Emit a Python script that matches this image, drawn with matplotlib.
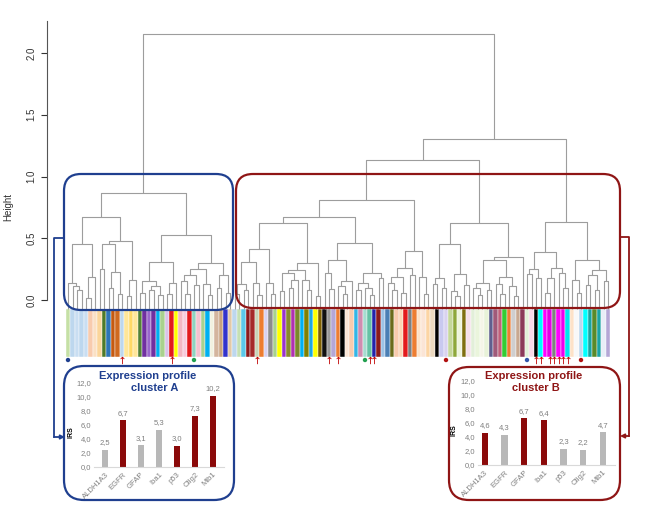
import matplotlib
matplotlib.use("Agg")
import matplotlib.pyplot as plt
from matplotlib.patches import FancyBboxPatch

plt.rcParams["font.family"] = ["Liberation Sans", "DejaVu Sans"]

W, H = 656, 509
L = None  # leaf

# dendrogram nodes: [merge height, left, right]
a_left = [0.67,
          [0.45, [0.14, L, [0.11, L, [0.08, L, L]]], [0.19, [0.02, L, L], L]],
          [0.48, [0.45, [0.25, L, L], [0.23, [0.10, L, L], [0.05, L, L]]],
           [0.16, [0.03, L, L], L]]]
a_right = [0.53,
           [0.31, [0.15, [0.06, L, L], [0.11, [0.08, L, L], [0.04, L, L]]],
            [0.14, [0.05, L, L], L]],
           [0.30, [0.25, [0.20, [0.15, L, [0.05, L, L]], [0.12, L, L]],
                   [0.13, L, [0.04, L, L]]],
            [0.20, [0.10, L, L], [0.06, L, L]]]]
b_n3 = [0.62,
        [0.41, [0.31, [0.13, [0.05, L, L], [0.08, L, L]], [0.14, L, [0.04, L, L]]],
         [0.14, L, [0.05, L, L]]],
        [0.30, [0.24, [0.22, [0.07, L, L], [0.16, [0.10, L, L], L]],
                [0.16, L, [0.08, L, L]]],
         [0.03, L, L]]]
b_n4 = [0.46,
        [0.32, [0.22, L, [0.09, L, L]], [0.15, [0.11, L, [0.05, L, L]], L]],
        [0.22, [0.14, [0.08, L, L], [0.10, L, [0.04, L, L]]], [0.18, L, L]]]
b_n5 = [0.40,
        [0.26, [0.19, [0.14, L, [0.08, L, L]], [0.06, L, L]], [0.20, L, L]],
        [0.19, L, [0.05, L, L]]]
b_n6 = [0.62,
        [0.45, [0.18, [0.13, L, L], [0.10, L, L]],
         [0.21, [0.07, L, [0.03, L, L]], [0.12, L, L]]],
        [0.35, [0.32, [0.14, [0.10, L, [0.04, L, L]], [0.08, L, L]],
                [0.19, [0.13, L, [0.05, L, L]], [0.11, L, [0.03, L, L]]]],
         L]]
b_n7 = [0.63,
        [0.39, [0.25, [0.21, L, L], [0.18, L, L]],
         [0.26, [0.18, [0.06, L, L], L], [0.22, L, [0.10, L, L]]]],
        [0.32, [0.16, L, [0.06, L, L]],
         [0.24, [0.20, [0.12, L, L], [0.08, L, L]], [0.15, L, L]]]]
tree = [2.15, [0.87, a_left, a_right],
        [1.30, [1.13, [0.81, [0.67, b_n3, b_n4], b_n5], b_n6], b_n7]]

leaf_colors = [
    "#c5e0a5", "#bdd7ee", "#c9def2", "#bdd7ee", "#c9def2", "#f8cbad", "#fbe0c4", "#fbd59a", "#4f7a28", "#2e75b6",
    "#c55a11", "#d06a20", "#bdd7ee", "#ffe699", "#ffd966", "#ffe699", "#548235", "#7030a0", "#9966cc", "#7030a0",
    "#00b0f0", "#a9d18e", "#d9c3e9", "#e31a1c", "#ffff00", "#f4b6c2", "#f8cbdc", "#e31a1c", "#8fd3c1", "#f4c2d0",
    "#a9d18e", "#00b0f0", "#f2f2e0", "#d4b59e", "#c9a27e", "#3333cc", "#e2c9a8", "#bdd7ee", "#c5e0b4", "#5bc8e8",
    "#8b1a1a", "#a52a2a", "#c8d4b8", "#ed7d31", "#d9d2f0", "#8c8c8c", "#a9d18e", "#ffff00", "#9933cc", "#8a8a2a",
    "#b030b0", "#7a8a2a", "#00b0f0", "#808000", "#1fa8e0", "#ffff00", "#7f6000", "#111111", "#999999", "#b4a7d6",
    "#ed7d31", "#000000", "#fbe5d6", "#f8cbad", "#33b5e5", "#d08cb0", "#a6dcd0", "#66c2a5", "#2222aa", "#8b1a1a",
    "#9dc3e6", "#4a7fb5", "#6b6b1a", "#f8cbad", "#fcd5b4", "#e31a1c", "#7f7f7f", "#ed7d31", "#fde2c8", "#fbe5d6",
    "#fcd5a4", "#ecd9c0", "#000000", "#c9c9f0", "#d9d2f0", "#c5d89a", "#8ea83a", "#eef5dc", "#7f6f10", "#f6e0ea",
    "#e2efd9", "#eaf5dc", "#f5f5e8", "#e8f2d8", "#5f5f8f", "#a05a7a", "#c0607a", "#33cc33", "#ed7d31", "#d0cece",
    "#c8a890", "#8b3a5a", "#e2efd9", "#f8d8e8", "#000000", "#00ffff", "#ff00ff", "#e600e6", "#808080", "#ff00ff",
    "#ee00ee", "#00e5ee", "#fde2c8", "#f8f8f8", "#bdd7ee", "#00ffff", "#1aa3a3", "#5a8a2a", "#1aa3a3", "#e8eef8",
    "#b4a7d6",
]
arrow_leaves = [12, 23, 42, 58, 60, 67, 68, 104, 105, 107, 108, 109, 110, 111]
dot_leaves = [0, 28, 66, 84, 102, 114]
dot_colors = ["#1f3f8f", "#22a050", "#22a050", "#b01010", "#3355aa", "#b01010"]

genes = ["ALDH1A3", "EGFR", "GFAP", "Iba1", "p53", "Olig2", "Mib1"]
irs_a = [2.5, 6.7, 3.1, 5.3, 3.0, 7.3, 10.2]
irs_b = [4.6, 4.3, 6.7, 6.4, 2.3, 2.2, 4.7]
high_a = [False, True, False, False, True, True, True]
high_b = [True, False, True, True, False, False, False]

NAVY = "#1f3f8f"
DRED = "#8f1515"
BAR_RED = "#8b0a0a"
BAR_GRAY = "#b8b8b8"
LINE_GRAY = "#9d9d9d"

# pixel layout of the dendrogram: leaf i at x0 + dx*i, height 0 at y0, scale per unit
X0, DX, Y0, SY = 68, 4.5, 300, 123.5
STRIP_TOP = (Y0 - 309) / SY
STRIP_BOT = (Y0 - 357) / SY
MARK_Y = (Y0 - 360) / SY


def px_box(x0, y0, x1, y1):
    return [x0 / W, 1 - y1 / H, (x1 - x0) / W, (y1 - y0) / H]


def draw_node(ax, node, counter):
    if node is None:
        x = counter[0]
        counter[0] += 1
        return x, STRIP_TOP
    h, left, right = node
    xl, hl = draw_node(ax, left, counter)
    xr, hr = draw_node(ax, right, counter)
    ax.plot([xl, xl, xr, xr], [hl, h, h, hr], color=LINE_GRAY, lw=0.8,
            solid_capstyle="butt")
    return (xl + xr) / 2, h


fig = plt.figure(figsize=(W / 100, H / 100), dpi=100)

ax = fig.add_axes([0, 0, 1, 1])
ax.patch.set_alpha(0)
ax.set_xlim(-X0 / DX, (W - X0) / DX)
ax.set_ylim((Y0 - H) / SY, Y0 / SY)
draw_node(ax, tree, [0])

n_leaves = len(leaf_colors)
ax.bar(range(n_leaves), STRIP_TOP - STRIP_BOT, bottom=STRIP_BOT, width=1.0,
       color=leaf_colors, edgecolor="white", linewidth=0.3)
ax.scatter(arrow_leaves, [MARK_Y] * len(arrow_leaves), marker=r"$\uparrow$",
           s=28, color="#c00000", linewidths=0)
ax.scatter(dot_leaves, [MARK_Y] * len(dot_leaves), s=10, c=dot_colors,
           linewidths=0)

for side in ("top", "right", "bottom"):
    ax.spines[side].set_visible(False)
ax.spines["left"].set_position(("data", (47 - X0) / DX))
ax.spines["left"].set_bounds(0, (Y0 - 21) / SY)
ax.spines["left"].set_color("#555555")
ax.spines["left"].set_linewidth(0.8)
ax.set_xticks([])
ax.set_yticks([0, 0.5, 1.0, 1.5, 2.0])
ax.set_yticklabels(["0.0", "0.5", "1.0", "1.5", "2.0"])
ax.tick_params(axis="y", labelrotation=90, length=4.5, width=0.8, pad=3,
               labelsize=7, colors="#333333")
for lab in ax.get_yticklabels():
    lab.set_va("center")

# overlay in pixel coordinates for boxes and connectors
ov = fig.add_axes([0, 0, 1, 1])
ov.set_xlim(0, W)
ov.set_ylim(H, 0)
ov.axis("off")
ov.patch.set_alpha(0)

ov.text(8, 207, "Height", rotation=90, ha="center", va="center", fontsize=7,
        color="#333333")


def rbox(x0, y0, x1, y1, color, r):
    ov.add_patch(FancyBboxPatch((x0, y0), x1 - x0, y1 - y0,
                                boxstyle=f"round,pad=0,rounding_size={r}",
                                fill=False, ec=color, lw=1.6))


rbox(64, 174, 233, 310, NAVY, 17)
rbox(236, 174, 620, 308, DRED, 17)
rbox(64, 366, 234, 500, NAVY, 20)
rbox(449, 367, 620, 500, DRED, 20)

ov.plot([63, 54, 54], [238, 238, 437], color=NAVY, lw=1.3)
ov.annotate("", xy=(65, 437), xytext=(54, 437),
            arrowprops=dict(arrowstyle="-|>", color=NAVY, lw=1.3,
                            mutation_scale=6, shrinkA=0, shrinkB=0))
ov.plot([620, 629, 629], [237, 237, 436], color=DRED, lw=1.3)
ov.annotate("", xy=(620, 436), xytext=(629, 436),
            arrowprops=dict(arrowstyle="-|>", color=DRED, lw=1.3,
                            mutation_scale=6, shrinkA=0, shrinkB=0))

ov.text(148, 376, "Expression profile", ha="center", va="center",
        fontsize=8, fontweight="bold", color=NAVY)
ov.text(155, 388, "cluster A", ha="center", va="center",
        fontsize=8, fontweight="bold", color=NAVY)
ov.text(534, 376, "Expression profile", ha="center", va="center",
        fontsize=8, fontweight="bold", color=DRED)
ov.text(536, 388, "cluster B", ha="center", va="center",
        fontsize=8, fontweight="bold", color=DRED)


def bar_panel(rect, xlim, values, high, label_x):
    bx = fig.add_axes(rect)
    bx.patch.set_alpha(0)
    colors = [BAR_RED if h else BAR_GRAY for h in high]
    pos = range(len(values))
    bx.bar(pos, values, width=0.32, color=colors)
    for x, v in zip(pos, values):
        bx.text(x, v + 0.5, f"{v:.1f}".replace(".", ","), ha="center",
                va="bottom", fontsize=5.5, color="#7f7f7f")
    bx.set_xlim(*xlim)
    bx.set_ylim(0, 12.5)
    yt = [0, 2, 4, 6, 8, 10, 12]
    bx.set_yticks(yt)
    bx.set_yticklabels([f"{v:.1f}".replace(".", ",") for v in yt])
    bx.set_xticks(list(pos))
    bx.set_xticklabels(genes, rotation=45, ha="right", rotation_mode="anchor")
    bx.tick_params(axis="both", length=0, labelsize=5.5, colors="#7f7f7f", pad=2)
    bx.tick_params(axis="x", labelsize=5.5, pad=3)
    for side in ("top", "right", "left"):
        bx.spines[side].set_visible(False)
    bx.spines["bottom"].set_color("#d9d9d9")
    bx.spines["bottom"].set_linewidth(0.8)
    bx.set_ylabel("IRS", fontsize=5, fontweight="bold", color="black")
    bx.yaxis.set_label_coords(label_x, 0.4)
    return bx


bar_panel(px_box(94.2, 379.5, 223.8, 467), (-0.6, 6.6), irs_a, high_a, -0.15)
bar_panel(px_box(478, 377.5, 614.8, 465), (-0.35, 6.6), irs_b, high_b, -0.15)

fig.savefig("out.png", dpi=100)
